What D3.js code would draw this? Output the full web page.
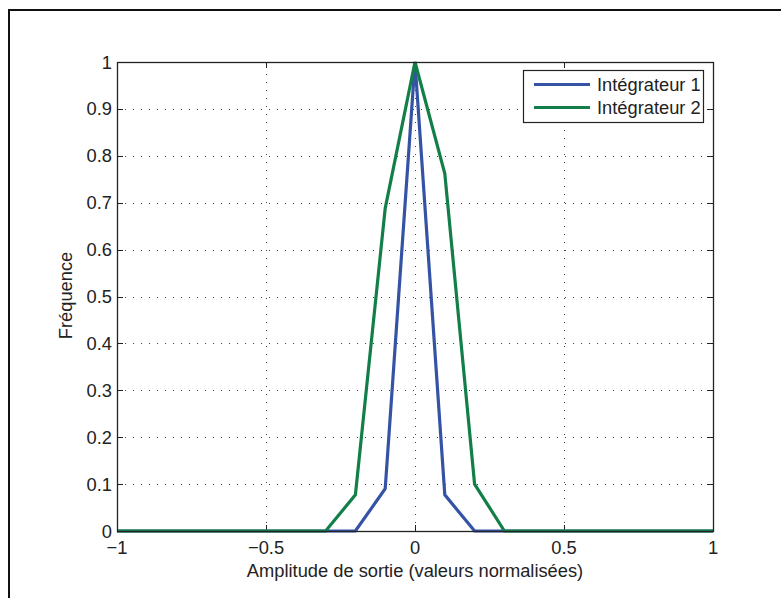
<!DOCTYPE html>
<html lang="fr">
<head>
<meta charset="UTF-8">
<title>Fréquence</title>
<script src="https://d3js.org/d3.v7.min.js"></script>
<style>
    body { margin: 0; background: #fff; }
    text { font-family: "Liberation Sans", Arial, sans-serif; fill: #222; }
</style>
</head>
<body>
<svg id="chart" width="781" height="598"></svg>
<script>
// amplitudes (normalised), one per point
const amplitudes = [-1, -0.9, -0.8, -0.7, -0.6, -0.5, -0.4, -0.3, -0.2, -0.1, 0,
                    0.1, 0.2, 0.3, 0.4, 0.5, 0.6, 0.7, 0.8, 0.9, 1];
const integ1 = [0, 0, 0, 0, 0, 0, 0, 0, 0, 0.09, 1, 0.077, 0, 0, 0, 0, 0, 0, 0, 0, 0];
const integ2 = [0, 0, 0, 0, 0, 0, 0, 0, 0.077, 0.688, 1, 0.762, 0.1, 0, 0, 0, 0, 0, 0, 0, 0];
const seriesNames = ["Intégrateur 1", "Intégrateur 2"];
const seriesColors = ["#3553a5", "#127f49"];
const xTicks = [-1, -0.5, 0, 0.5, 1];
const yTicks = [0, 0.1, 0.2, 0.3, 0.4, 0.5, 0.6, 0.7, 0.8, 0.9, 1];

const svg = d3.select("#chart");
const pLeft = 117, pRight = 713, pTop = 62, pBottom = 531;
const fs = 18.3;

// figure frame (only top & left edges show)
svg.append("rect")
    .attr("x", 9).attr("y", 10)
    .attr("width", 800).attr("height", 700)
    .attr("fill", "none").attr("stroke", "#111").attr("stroke-width", 2);

const x = d3.scaleLinear().domain([-1, 1]).range([pLeft, pRight]);
const y = d3.scaleLinear().domain([0, 1]).range([pBottom, pTop]);

const fmt = d => d3.format("")(d).replace("-", "\u2212");

// grid
const grid = svg.append("g").attr("stroke", "#444").attr("stroke-width", 1)
    .attr("stroke-dasharray", "1,7");
yTicks.slice(1, -1).forEach(t => {
    grid.append("line").attr("x1", pLeft).attr("x2", pRight)
        .attr("y1", Math.round(y(t)) + 0.5).attr("y2", Math.round(y(t)) + 0.5);
});
xTicks.slice(1, -1).forEach(t => {
    grid.append("line").attr("y1", pBottom).attr("y2", pTop)
        .attr("x1", Math.round(x(t)) + 0.5).attr("x2", Math.round(x(t)) + 0.5);
});

// inward ticks on all four sides
const tk = svg.append("g").attr("stroke", "#222").attr("stroke-width", 1);
yTicks.forEach(t => {
    const yy = Math.round(y(t)) + 0.5;
    tk.append("line").attr("x1", pLeft).attr("x2", pLeft + 6).attr("y1", yy).attr("y2", yy);
    tk.append("line").attr("x1", pRight).attr("x2", pRight - 6).attr("y1", yy).attr("y2", yy);
});
xTicks.forEach(t => {
    const xx = Math.round(x(t)) + 0.5;
    tk.append("line").attr("y1", pBottom).attr("y2", pBottom - 6).attr("x1", xx).attr("x2", xx);
    tk.append("line").attr("y1", pTop).attr("y2", pTop + 6).attr("x1", xx).attr("x2", xx);
});

// lines
const line = d3.line().x((d, i) => x(amplitudes[i])).y(d => y(d));
[integ1, integ2].forEach((s, k) => {
    svg.append("path").datum(s)
        .attr("d", line)
        .attr("fill", "none")
        .attr("stroke", seriesColors[k])
        .attr("stroke-width", 3.2)
        .attr("stroke-linejoin", "miter");
});

// axes box
svg.append("rect")
    .attr("x", pLeft + 0.5).attr("y", pTop + 0.5)
    .attr("width", pRight - pLeft).attr("height", pBottom - pTop)
    .attr("fill", "none").attr("stroke", "#222").attr("stroke-width", 1.3);

// tick labels
yTicks.forEach(t => {
    svg.append("text")
        .attr("x", pLeft - 5).attr("y", y(t) + 6.5)
        .attr("text-anchor", "end")
        .attr("font-size", fs)
        .text(fmt(t));
});
xTicks.forEach(t => {
    svg.append("text")
        .attr("x", x(t)).attr("y", pBottom + 23)
        .attr("text-anchor", "middle")
        .attr("font-size", fs)
        .text(fmt(t));
});

// axis titles
svg.append("text")
    .attr("x", (pLeft + pRight) / 2).attr("y", 577)
    .attr("text-anchor", "middle").attr("font-size", fs)
    .text("Amplitude de sortie (valeurs normalisées)");
svg.append("text")
    .attr("transform", `translate(72, ${(pTop + pBottom) / 2 - 1}) rotate(-90)`)
    .attr("text-anchor", "middle").attr("font-size", fs)
    .text("Fréquence");

// legend
const lg = svg.append("g");
lg.append("rect")
    .attr("x", 523.5).attr("y", 70.5).attr("width", 180).attr("height", 52)
    .attr("fill", "#fff").attr("stroke", "#222").attr("stroke-width", 1.2);
seriesNames.forEach((name, k) => {
    const yy = 84.5 + k * 23;
    lg.append("line")
        .attr("x1", 534).attr("x2", 590).attr("y1", yy).attr("y2", yy)
        .attr("stroke", seriesColors[k]).attr("stroke-width", 3.2);
    lg.append("text")
        .attr("x", 597).attr("y", yy + 6.5)
        .attr("font-size", fs)
        .text(name);
});
</script>
</body>
</html>
